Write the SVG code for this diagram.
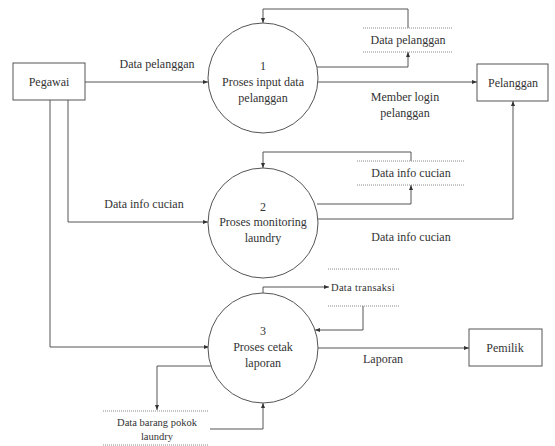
<svg xmlns="http://www.w3.org/2000/svg" width="555" height="446" viewBox="0 0 555 446">
  <style>
    .box { fill: #ffffff; stroke: #555555; stroke-width: 1; }
    .proc { fill: #ffffff; stroke: #555555; stroke-width: 1; }
    .store { stroke: #8a8a8a; stroke-width: 1; stroke-dasharray: 1 1; fill: none; }
    .flow { fill: none; stroke: #555555; stroke-width: 1; }
    text { font-family: 'Liberation Serif', 'DejaVu Serif', 'Times New Roman', serif; font-size: 12px; fill: #333333; text-anchor: middle; }
    .small { font-size: 10.5px; }
  </style>
  <defs>
    <marker id="arrow" viewBox="0 0 10 10" refX="10" refY="5" markerWidth="5" markerHeight="5" orient="auto" markerUnits="userSpaceOnUse">
      <path d="M0,1 L10,5 L0,9 z" fill="#333333"/>
    </marker>
  </defs>

  <!-- connectors -->
  <g id="connectors">
    <!-- Pegawai -> process 1 -->
    <path class="flow" d="M85,82 H208" marker-end="url(#arrow)"/>
    <!-- Pegawai -> process 2 -->
    <path class="flow" d="M68,100 V222 H208" marker-end="url(#arrow)"/>
    <!-- Pegawai -> process 3 -->
    <path class="flow" d="M50,100 V347 H209" marker-end="url(#arrow)"/>

    <!-- process 1 <-> Data pelanggan -->
    <path class="flow" d="M408,28 V9 H263 V23" marker-end="url(#arrow)"/>
    <path class="flow" d="M317,67 H408 V52" marker-end="url(#arrow)"/>
    <!-- process 1 -> Pelanggan -->
    <path class="flow" d="M318,82 H477" marker-end="url(#arrow)"/>

    <!-- process 2 <-> Data info cucian -->
    <path class="flow" d="M411,161 V152 H263 V168" marker-end="url(#arrow)"/>
    <path class="flow" d="M317,204 H411 V185" marker-end="url(#arrow)"/>
    <!-- process 2 -> Pelanggan -->
    <path class="flow" d="M318,219 H513 V101" marker-end="url(#arrow)"/>

    <!-- process 3 <-> Data transaksi -->
    <path class="flow" d="M263,293 V287 H329" marker-end="url(#arrow)"/>
    <path class="flow" d="M363,306 V330 H315" marker-end="url(#arrow)"/>
    <!-- process 3 -> Pemilik -->
    <path class="flow" d="M318,348 H469" marker-end="url(#arrow)"/>

    <!-- process 3 <-> Data barang pokok laundry -->
    <path class="flow" d="M215,366 H157 V410" marker-end="url(#arrow)"/>
    <path class="flow" d="M210,429 H263 V403" marker-end="url(#arrow)"/>
  </g>

  <!-- external entities -->
  <g id="pegawai">
    <rect class="box" x="13" y="63" width="72" height="37"/>
    <text x="49" y="86">Pegawai</text>
  </g>
  <g id="pelanggan">
    <rect class="box" x="477" y="64" width="71" height="37"/>
    <text x="513" y="87">Pelanggan</text>
  </g>
  <g id="pemilik">
    <rect class="box" x="469" y="329" width="73" height="37"/>
    <text x="505" y="352">Pemilik</text>
  </g>

  <!-- processes -->
  <g id="proses-1">
    <circle class="proc" cx="263" cy="78" r="55"/>
    <text x="263" y="70">1</text>
    <text x="263" y="86">Proses input data</text>
    <text x="263" y="102">pelanggan</text>
  </g>
  <g id="proses-2">
    <circle class="proc" cx="263" cy="223" r="55"/>
    <text x="263" y="211">2</text>
    <text x="263" y="226">Proses monitoring</text>
    <text x="263" y="242">laundry</text>
  </g>
  <g id="proses-3">
    <circle class="proc" cx="263" cy="348" r="55"/>
    <text x="263" y="335">3</text>
    <text x="263" y="351">Proses cetak</text>
    <text x="263" y="367">laporan</text>
  </g>

  <!-- data stores -->
  <g id="store-data-pelanggan">
    <line class="store" x1="363" y1="28" x2="453" y2="28"/>
    <line class="store" x1="363" y1="52" x2="453" y2="52"/>
    <text x="408" y="44">Data pelanggan</text>
  </g>
  <g id="store-data-info-cucian">
    <line class="store" x1="357" y1="161" x2="465" y2="161"/>
    <line class="store" x1="357" y1="185" x2="465" y2="185"/>
    <text x="411" y="177">Data info cucian</text>
  </g>
  <g id="store-data-transaksi">
    <line class="store" x1="328" y1="269" x2="400" y2="269"/>
    <line class="store" x1="328" y1="306" x2="400" y2="306"/>
    <text class="small" x="331" y="291" style="text-anchor:start; letter-spacing:0.3px">Data transaksi</text>
  </g>
  <g id="store-data-barang">
    <line class="store" x1="103" y1="411" x2="208" y2="411"/>
    <line class="store" x1="103" y1="445" x2="208" y2="445"/>
    <text class="small" x="157" y="426">Data barang pokok</text>
    <text class="small" x="157" y="440">laundry</text>
  </g>

  <!-- flow labels -->
  <g id="labels">
    <text x="157" y="68">Data pelanggan</text>
    <text x="405" y="101">Member login</text>
    <text x="405" y="117">pelanggan</text>
    <text x="144" y="208">Data info cucian</text>
    <text x="411" y="241">Data info cucian</text>
    <text x="383" y="363">Laporan</text>
  </g>
</svg>
